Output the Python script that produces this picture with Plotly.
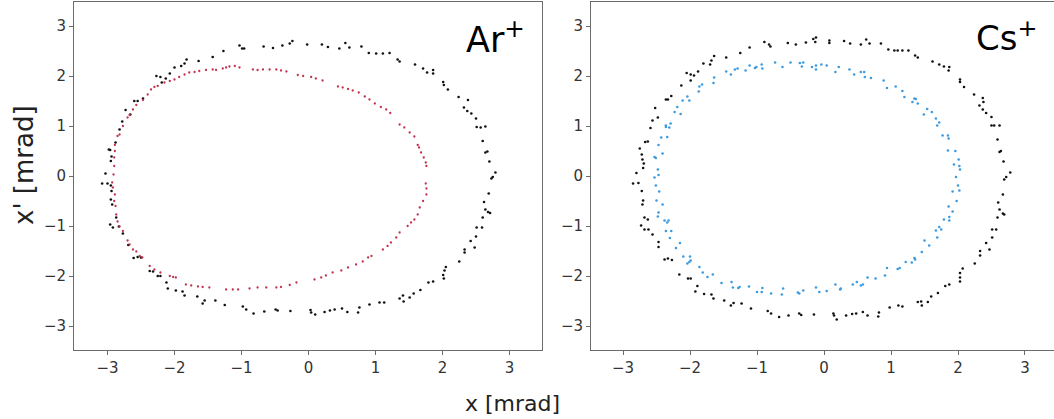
import plotly.graph_objects as go

# ---------------- data (mrad) ----------------
ar_black_x = [-1.03,-0.96,-0.67,-0.53,-0.39,-0.28,-0.24,-0.02,0.20,0.29,0.46,0.55,0.61,0.79,0.90,1.01,1.11,1.21,1.33,1.36,
              1.59,1.71,1.77,1.86,1.86,2.01,2.02,2.08,2.24,2.32,2.38,2.37,2.43,2.50,2.51,2.57,2.64,2.60,2.64,2.67,
              2.70,2.73,2.75,2.79,2.69,2.62,2.64,2.68,2.71,2.60,2.59,2.51,2.50,2.42,2.48,2.33,2.33,2.25,2.05,2.03,
              2.01,2.02,1.86,1.79,1.67,1.57,1.51,1.41,1.42,1.36,1.13,1.06,0.91,0.76,0.74,0.58,0.50,0.39,0.32,0.24,
              0.10,0.04,0.03,-0.27,-0.46,-0.49,-0.66,-0.82,-0.93,-0.98,-1.25,-1.39,-1.55,-1.58,-1.66,-1.85,-1.88,-1.98,-2.10,-2.12,
              -2.21,-2.25,-2.32,-2.37,-2.50,-2.55,-2.61,-2.69,-2.77,-2.83,-2.92,-2.96,-2.87,-2.93,-2.95,-2.94,-2.95,-3.00,-3.08,-3.03,
              -2.95,-2.94,-2.96,-2.98,-2.88,-2.82,-2.78,-2.73,-2.66,-2.60,-2.55,-2.47,-2.27,-2.19,-2.21,-2.13,-2.07,-2.00,-1.90,-1.85,
              -1.82,-1.64,-1.43,-1.27,-0.99]
ar_black_y = [2.61,2.55,2.59,2.56,2.61,2.65,2.70,2.63,2.63,2.58,2.55,2.66,2.57,2.59,2.46,2.45,2.45,2.46,2.33,2.29,
              2.23,2.15,2.07,2.12,2.05,1.88,1.82,1.73,1.58,1.37,1.52,1.30,1.25,1.15,0.98,0.97,0.99,0.70,0.47,0.49,
              0.29,-0.05,-0.02,0.07,-0.35,-0.52,-0.67,-0.72,-0.74,-0.83,-1.03,-1.03,-1.21,-1.30,-1.43,-1.47,-1.53,-1.71,-1.82,-1.89,
              -1.98,-2.05,-2.11,-2.13,-2.28,-2.35,-2.43,-2.39,-2.51,-2.45,-2.53,-2.53,-2.57,-2.63,-2.73,-2.72,-2.65,-2.67,-2.69,-2.72,
              -2.77,-2.73,-2.68,-2.70,-2.69,-2.67,-2.71,-2.75,-2.67,-2.61,-2.58,-2.49,-2.49,-2.55,-2.41,-2.39,-2.31,-2.29,-2.25,-2.13,
              -2.00,-2.00,-1.91,-1.90,-1.63,-1.62,-1.64,-1.38,-1.15,-1.01,-1.03,-0.97,-0.83,-0.57,-0.47,-0.30,-0.19,-0.15,-0.15,0.05,
              0.30,0.39,0.52,0.53,0.67,0.93,1.09,1.32,1.23,1.50,1.50,1.55,2.00,1.87,1.98,1.95,2.05,2.17,2.20,2.25,
              2.33,2.30,2.38,2.50,2.55]

ar_red_x = [-1.43,-1.38,-1.28,-1.23,-1.18,-1.10,-1.03,-0.83,-0.76,-0.68,-0.58,-0.48,-0.41,-0.33,-0.16,-0.08,0.04,0.11,0.21,0.44,
            0.51,0.59,0.66,0.75,0.84,0.91,0.99,1.08,1.16,1.22,1.36,1.43,1.51,1.58,1.63,1.65,1.68,1.72,1.75,1.76,
            1.75,1.76,1.76,1.71,1.66,1.63,1.58,1.53,1.48,1.36,1.31,1.23,1.18,1.11,0.94,0.89,0.81,0.71,0.59,0.49,
            0.36,0.26,0.19,0.09,-0.18,-0.28,-0.41,-0.48,-0.63,-0.76,-0.88,-1.05,-1.13,-1.23,-1.48,-1.58,-1.65,-1.75,-1.83,-1.98,
            -2.02,-2.07,-2.21,-2.30,-2.37,-2.48,-2.52,-2.57,-2.62,-2.67,-2.70,-2.77,-2.82,-2.85,-2.87,-2.88,-2.90,-2.89,-2.92,-2.93,
            -2.91,-2.90,-2.90,-2.89,-2.89,-2.85,-2.82,-2.77,-2.70,-2.67,-2.62,-2.57,-2.47,-2.40,-2.35,-2.30,-2.25,-2.15,-2.07,-2.00,
            -1.93,-1.85,-1.78,-1.70,-1.63,-1.53]
ar_red_y = [2.13,2.12,2.15,2.17,2.19,2.20,2.17,2.13,2.12,2.13,2.13,2.13,2.11,2.09,2.02,2.00,1.98,1.95,1.91,1.79,
            1.77,1.74,1.71,1.67,1.59,1.53,1.45,1.38,1.33,1.26,1.03,0.97,0.87,0.79,0.62,0.57,0.47,0.37,0.27,0.20,
            -0.15,-0.25,-0.37,-0.50,-0.63,-0.77,-0.87,-0.93,-1.00,-1.13,-1.23,-1.33,-1.40,-1.47,-1.60,-1.63,-1.71,-1.77,-1.83,-1.89,
            -1.93,-1.99,-2.03,-2.07,-2.13,-2.18,-2.22,-2.23,-2.23,-2.23,-2.25,-2.27,-2.27,-2.27,-2.23,-2.22,-2.21,-2.19,-2.17,-2.03,
            -2.02,-2.00,-1.93,-1.87,-1.80,-1.63,-1.60,-1.51,-1.47,-1.37,-1.29,-1.10,-1.01,-0.91,-0.77,-0.60,-0.50,-0.37,-0.23,-0.13,
            0.03,0.20,0.37,0.50,0.62,0.80,0.83,1.00,1.17,1.22,1.33,1.42,1.52,1.63,1.73,1.78,1.80,1.87,1.90,1.93,
            1.98,2.03,2.07,2.08,2.10,2.12]

cs_black_x = [-0.89,-0.82,-0.80,-0.54,-0.42,-0.27,-0.16,-0.12,-0.13,0.08,0.08,0.30,0.39,0.55,0.63,0.68,0.85,0.96,1.05,1.10,
              1.17,1.26,1.36,1.40,1.62,1.72,1.79,1.87,1.86,2.03,2.03,2.09,2.24,2.32,2.37,2.38,2.37,2.42,2.50,2.50,
              2.54,2.62,2.59,2.62,2.64,2.68,2.72,2.78,2.69,2.67,2.60,2.62,2.67,2.69,2.59,2.57,2.51,2.51,2.42,2.47,
              2.33,2.33,2.25,2.07,2.03,2.03,2.03,1.87,1.81,1.70,1.60,1.55,1.46,1.45,1.40,1.17,1.11,0.98,0.82,0.81,
              0.65,0.58,0.48,0.42,0.33,0.19,0.15,0.14,-0.15,-0.34,-0.37,-0.53,-0.67,-0.79,-0.84,-1.09,-1.23,-1.35,-1.39,-1.49,
              -1.65,-1.68,-1.79,-1.92,-1.89,-1.99,-2.03,-2.16,-2.27,-2.33,-2.38,-2.47,-2.47,-2.56,-2.62,-2.68,-2.73,-2.63,-2.68,-2.71,
              -2.70,-2.72,-2.77,-2.85,-2.80,-2.70,-2.69,-2.71,-2.72,-2.75,-2.67,-2.63,-2.59,-2.56,-2.48,-2.52,-2.36,-2.33,-2.28,-2.13,
              -1.99,-2.05,-1.99,-1.94,-1.88,-1.80,-1.70,-1.68,-1.64,-1.46,-1.25,-1.11]
cs_black_y = [2.68,2.63,2.59,2.66,2.63,2.67,2.74,2.77,2.68,2.71,2.66,2.70,2.65,2.63,2.73,2.65,2.65,2.53,2.51,2.51,
              2.51,2.51,2.41,2.37,2.29,2.23,2.19,2.18,2.11,1.93,1.88,1.78,1.63,1.41,1.56,1.48,1.33,1.26,1.18,1.01,
              1.01,1.01,0.73,0.48,0.50,0.29,-0.02,0.07,-0.07,-0.37,-0.53,-0.67,-0.75,-0.77,-0.83,-1.07,-1.07,-1.23,-1.34,-1.47,
              -1.50,-1.59,-1.75,-1.85,-1.94,-2.03,-2.11,-2.17,-2.20,-2.34,-2.41,-2.52,-2.59,-2.51,-2.52,-2.61,-2.59,-2.63,-2.73,-2.81,
              -2.79,-2.72,-2.75,-2.76,-2.79,-2.87,-2.79,-2.75,-2.77,-2.78,-2.75,-2.79,-2.82,-2.75,-2.70,-2.65,-2.55,-2.54,-2.59,-2.49,
              -2.45,-2.37,-2.36,-2.31,-2.20,-2.05,-2.05,-1.97,-1.68,-1.65,-1.67,-1.42,-1.32,-1.17,-1.07,-1.07,-0.99,-0.87,-0.83,-0.57,
              -0.49,-0.30,-0.14,-0.15,0.06,0.16,0.25,0.33,0.43,0.55,0.68,0.69,0.96,1.11,1.17,1.36,1.53,1.53,1.60,1.81,
              1.91,2.06,2.03,2.01,2.09,2.25,2.23,2.31,2.40,2.37,2.46,2.57]

cs_blue_x = [-1.46,-1.39,-1.33,-1.29,-1.17,-1.11,-1.03,-1.01,-0.93,-0.92,-0.73,-0.62,-0.50,-0.36,-0.33,-0.31,-0.18,-0.12,-0.12,-0.04,
             0.04,0.17,0.22,0.38,0.45,0.55,0.60,0.61,0.70,0.89,0.94,1.07,1.17,1.20,1.32,1.35,1.37,1.40,1.49,1.54,
             1.61,1.67,1.69,1.72,1.77,1.85,1.86,1.85,1.96,2.01,1.94,2.02,2.03,1.97,2.00,2.02,1.92,1.98,1.86,1.92,
             1.87,1.79,1.87,1.72,1.75,1.67,1.69,1.57,1.50,1.46,1.35,1.36,1.31,1.22,1.13,1.10,0.94,0.91,0.77,0.65,
             0.58,0.55,0.49,0.43,0.25,0.24,0.17,0.04,-0.07,-0.12,-0.31,-0.37,-0.39,-0.61,-0.63,-0.79,-0.92,-0.93,-1.00,-1.12,
             -1.26,-1.28,-1.36,-1.38,-1.53,-1.66,-1.74,-1.81,-1.86,-1.99,-2.00,-2.01,-2.04,-2.10,-2.21,-2.15,-2.30,-2.28,-2.36,-2.32,
             -2.38,-2.34,-2.47,-2.48,-2.41,-2.50,-2.46,-2.51,-2.53,-2.47,-2.48,-2.53,-2.51,-2.41,-2.47,-2.43,-2.34,-2.36,-2.31,-2.29,
             -2.36,-2.23,-2.14,-2.19,-2.11,-2.04,-2.01,-1.87,-1.86,-1.82,-1.65,-1.64]
cs_blue_y = [2.09,2.03,2.13,2.15,2.11,2.21,2.16,2.18,2.23,2.15,2.27,2.18,2.27,2.26,2.19,2.27,2.18,2.21,2.13,2.23,
             2.21,2.08,2.18,2.13,2.03,2.08,2.08,1.98,1.96,1.91,1.76,1.79,1.70,1.58,1.48,1.55,1.54,1.45,1.23,1.34,
             1.28,1.15,1.01,1.07,0.81,0.81,0.75,0.51,0.50,0.33,0.23,0.20,0.13,-0.02,-0.19,-0.29,-0.31,-0.50,-0.61,-0.71,
             -0.82,-0.87,-0.89,-1.02,-1.07,-1.09,-1.23,-1.39,-1.29,-1.52,-1.64,-1.67,-1.73,-1.72,-1.84,-1.86,-1.84,-1.99,-2.05,-2.03,
             -2.17,-2.19,-2.12,-2.17,-2.25,-2.27,-2.17,-2.30,-2.32,-2.23,-2.29,-2.35,-2.33,-2.25,-2.37,-2.35,-2.24,-2.32,-2.32,-2.21,
             -2.22,-2.24,-2.23,-2.12,-2.14,-1.97,-2.02,-1.93,-1.82,-1.69,-1.61,-1.72,-1.75,-1.61,-1.44,-1.34,-1.24,-1.10,-1.10,-0.89,
             -0.89,-0.93,-0.73,-0.81,-0.57,-0.49,-0.31,-0.19,-0.03,0.02,0.13,0.38,0.36,0.45,0.62,0.77,0.78,0.98,0.97,1.05,
             1.01,1.28,1.24,1.38,1.51,1.59,1.51,1.69,1.79,1.83,1.86,1.97]

x_ticks = [-3, -2, -1, 0, 1, 2, 3]
y_ticks = [-3, -2, -1, 0, 1, 2, 3]
panel_labels = ["Ar<sup>+</sup>", "Cs<sup>+</sup>"]
x_title = "x [mrad]"
y_title = "x' [mrad]"

# ---------------- figure ----------------
FONT = "DejaVu Sans"
fig = go.Figure()

def pts(x, y, color, size, xa, ya):
    return go.Scatter(x=x, y=y, mode="markers", xaxis=xa, yaxis=ya,
                      marker=dict(color=color, size=size, line=dict(width=0)),
                      showlegend=False, hoverinfo="skip")

fig.add_trace(pts(ar_black_x, ar_black_y, "#111111", 2.6, "x", "y"))
fig.add_trace(pts(ar_red_x, ar_red_y, "#c4304c", 2.3, "x", "y"))
fig.add_trace(pts(cs_black_x, cs_black_y, "#111111", 2.6, "x2", "y2"))
fig.add_trace(pts(cs_blue_x, cs_blue_y, "#3d9be0", 2.6, "x2", "y2"))

W, H = 1054, 419
ML, MR, MT, MB = 74, 0, 2, 69
pw = W - ML - MR
ph = H - MT - MB

axis_common = dict(showgrid=False, zeroline=False, showline=True, linecolor="#6b6b6b", linewidth=1,
                   ticks="outside", ticklen=4, tickwidth=1, tickcolor="#6b6b6b",
                   tickfont=dict(family=FONT, size=15, color="#333333"))

fig.update_layout(
    width=W, height=H,
    margin=dict(l=ML, r=MR, t=MT, b=MB),
    paper_bgcolor="white", plot_bgcolor="white",
    xaxis=dict(domain=[0, (542 - ML) / pw], range=[-3.5, 3.485], tickvals=x_ticks, mirror=True, **axis_common),
    yaxis=dict(domain=[0, 1], range=[-3.48, 3.48], tickvals=y_ticks, mirror=True, **axis_common),
    xaxis2=dict(domain=[(591 - ML) / pw, 1], range=[-3.478, 3.433], tickvals=x_ticks, mirror=True,
                anchor="y2", **axis_common),
    yaxis2=dict(domain=[0, 1], range=[-3.48, 3.48], tickvals=y_ticks, mirror=False, anchor="x2",
                **axis_common),
)

def px_x(p):
    return (p - ML) / pw

def px_y(p):
    return (H - MB - p) / ph

fig.add_annotation(text=panel_labels[0], xref="paper", yref="paper", x=px_x(527), y=px_y(12),
                   xanchor="right", yanchor="top", showarrow=False,
                   font=dict(family=FONT, size=35, color="black"))
fig.add_annotation(text=panel_labels[1], xref="paper", yref="paper", x=px_x(1039), y=px_y(12),
                   xanchor="right", yanchor="top", showarrow=False,
                   font=dict(family=FONT, size=34, color="black"))
fig.add_annotation(text=x_title, xref="paper", yref="paper", x=px_x(512), y=px_y(403),
                   xanchor="center", yanchor="middle", showarrow=False,
                   font=dict(family=FONT, size=22, color="#222222"))
fig.add_annotation(text=y_title, xref="paper", yref="paper", x=px_x(24), y=px_y(165),
                   xanchor="center", yanchor="middle", showarrow=False, textangle=-90,
                   font=dict(family=FONT, size=26, color="#222222"))

fig.write_html("out.html", config={"displayModeBar": False},
               post_script="document.body.style.margin='0';document.body.style.overflow='hidden';")
